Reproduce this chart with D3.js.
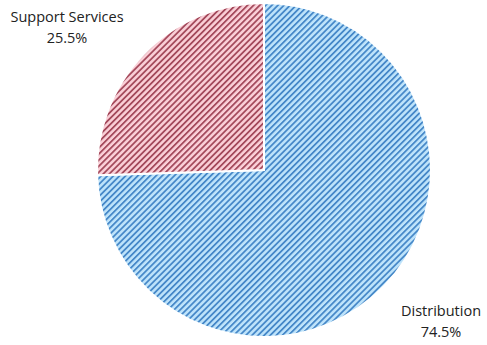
<!DOCTYPE html>
<html>
<head>
<meta charset="utf-8">
<script src="https://cdn.jsdelivr.net/npm/d3@7"></script>
<style>
  html, body { margin: 0; padding: 0; background: #fff; }
  text { font-family: "Open Sans", "Noto Sans", sans-serif; fill: #222; }
</style>
</head>
<body>
<svg id="chart" width="487" height="345"></svg>
<script>
// Share of segment revenue
const categories = ["Distribution", "Support Services"];
const shares = [74.5, 25.5];
const labels = ["Distribution", "Support Services"];
const lightColors = ["#bfe4fb", "#fbd0d8"];
const darkColors = ["#4688c8", "#a44a5c"];

const width = 487, height = 345;
const cx = 264, cy = 170, radius = 167;

const svg = d3.select("#chart");
const defs = svg.append("defs");

// Diagonal hatch fill for each slice
categories.forEach((c, i) => {
  const p = defs.append("pattern")
    .attr("id", "hatch" + i)
    .attr("patternUnits", "userSpaceOnUse")
    .attr("width", 4.3)
    .attr("height", 4.3)
    .attr("patternTransform", "rotate(45)");
  p.append("rect").attr("width", 4.3).attr("height", 4.3).attr("fill", lightColors[i]);
  p.append("rect").attr("width", 1.8).attr("height", 4.3).attr("fill", darkColors[i]);
});

const data = categories.map((c, i) => ({ name: c, value: shares[i], idx: i }));

const pie = d3.pie().sort(null).value(d => d.value);
const arc = d3.arc().innerRadius(0).outerRadius(radius);
const arcs = pie(data);

const g = svg.append("g").attr("transform", `translate(${cx},${cy})`);

g.selectAll("path.slice")
  .data(arcs)
  .join("path")
  .attr("class", "slice")
  .attr("d", arc)
  .attr("fill", d => `url(#hatch${d.data.idx})`)
  .attr("stroke", "#fff")
  .attr("stroke-width", 2);

// Labels placed outside the pie
const labelPos = [
  { x: 441, y: 316 },
  { x: 67, y: 22 }
];

arcs.forEach((a, i) => {
  const t = svg.append("text")
    .attr("text-anchor", "middle")
    .attr("font-size", 14.5);
  t.append("tspan")
    .attr("x", labelPos[i].x)
    .attr("y", labelPos[i].y)
    .text(labels[i]);
  t.append("tspan")
    .attr("x", labelPos[i].x)
    .attr("dy", 21)
    .text(d3.format(".1f")(a.data.value) + "%");
});
</script>
</body>
</html>
